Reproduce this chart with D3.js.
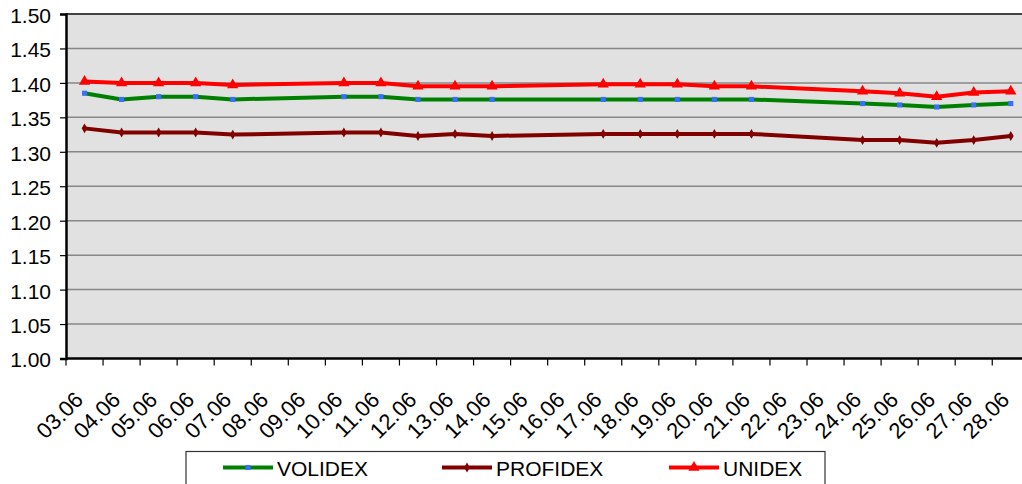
<!DOCTYPE html>
<html>
<head>
<meta charset="utf-8">
<script src="https://cdn.jsdelivr.net/npm/d3@7"></script>
<style>
  body { margin: 0; background: #ffffff; }
  text { font-family: "Liberation Sans", Arial, Helvetica, sans-serif; fill: #000; }
</style>
</head>
<body>
<script>
// ********************** DATA **************************************************************
var categories = ["03.06","04.06","05.06","06.06","07.06","08.06","09.06","10.06","11.06","12.06",
                  "13.06","14.06","15.06","16.06","17.06","18.06","19.06","20.06","21.06","22.06",
                  "23.06","24.06","25.06","26.06","27.06","28.06"];
// trading days only, weekends have no value
var dataDates = ["03.06","04.06","05.06","06.06","07.06","10.06","11.06","12.06","13.06","14.06",
                 "17.06","18.06","19.06","20.06","21.06","24.06","25.06","26.06","27.06","28.06"];
var volidex  = [1.385,1.376,1.380,1.380,1.376,1.380,1.380,1.376,1.376,1.376,
                1.376,1.376,1.376,1.376,1.376,1.370,1.368,1.365,1.368,1.370];
var profidex = [1.334,1.328,1.328,1.328,1.325,1.328,1.328,1.323,1.326,1.323,
                1.326,1.326,1.326,1.326,1.326,1.317,1.317,1.313,1.317,1.323];
var unidex   = [1.402,1.400,1.400,1.400,1.397,1.400,1.400,1.395,1.395,1.395,
                1.398,1.398,1.398,1.395,1.395,1.388,1.385,1.380,1.386,1.388];
var yTicks = [1.00,1.05,1.10,1.15,1.20,1.25,1.30,1.35,1.40,1.45,1.50];

// ********************** CHART SETUP **************************************************************
var width = 1022;
var height = 484;
var plotLeft = 66;
var plotTop = 14;
var plotBottom = 358.5;
var catWidth = 37.05;

var svg = d3.select("body")
    .append("svg")
    .attr("width", width)
    .attr("height", height);

var x = d3.scaleBand()
    .domain(categories)
    .range([plotLeft, plotLeft + categories.length * catWidth])
    .padding(0);

var y = d3.scaleLinear()
    .domain([1.00, 1.50])
    .range([plotBottom, plotTop]);

// plot area background
svg.append("rect")
    .attr("x", plotLeft)
    .attr("y", plotTop)
    .attr("width", categories.length * catWidth)
    .attr("height", plotBottom - plotTop)
    .attr("fill", "#e1e1e1");

// gridlines
svg.selectAll(".grid")
    .data(yTicks.slice(1))
    .enter().append("line")
    .attr("class", "grid")
    .attr("x1", plotLeft)
    .attr("x2", width)
    .attr("y1", d => y(d))
    .attr("y2", d => y(d))
    .attr("stroke", d => d === 1.50 ? "#444" : "#878787")
    .attr("stroke-width", d => d === 1.50 ? 2 : 1.5);

// Y axis
var yAxis = d3.axisLeft(y)
    .tickValues(yTicks)
    .tickFormat(d3.format(".2f"))
    .tickSize(6)
    .tickPadding(9);

var yG = svg.append("g")
    .attr("transform", "translate(" + plotLeft + ",0)")
    .call(yAxis);
yG.select(".domain").attr("stroke", "#000").attr("stroke-width", 2.5);
yG.selectAll(".tick line").attr("stroke", "#000").attr("stroke-width", 1.2);
yG.selectAll(".tick text")
    .style("font-size", "21px")
    .style("font-family", "'Liberation Sans', Arial, sans-serif")
    .attr("dy", "0.40em");

// X axis, ticks on category borders
var xG = svg.append("g");
xG.append("line")
    .attr("x1", plotLeft)
    .attr("x2", width)
    .attr("y1", plotBottom)
    .attr("y2", plotBottom)
    .attr("stroke", "#000")
    .attr("stroke-width", 2.5);

xG.selectAll(".xtick")
    .data(categories)
    .enter().append("line")
    .attr("class", "xtick")
    .attr("x1", d => x(d))
    .attr("x2", d => x(d))
    .attr("y1", plotBottom)
    .attr("y2", plotBottom + 7)
    .attr("stroke", "#000")
    .attr("stroke-width", 1.2);

xG.selectAll(".xlabel")
    .data(categories)
    .enter().append("text")
    .attr("class", "xlabel")
    .attr("transform", d => "translate(" + (x(d) + x.bandwidth() / 2) + ",401) rotate(-45)")
    .attr("text-anchor", "end")
    .style("font-size", "22px")
    .text(d => d);

// ********************** SERIES **************************************************************
var series = [
    { name: "VOLIDEX", values: volidex, color: "#008000", marker: "square", markerColor: "#3b6dff" },
    { name: "PROFIDEX", values: profidex, color: "#800000", marker: "dot", markerColor: "#800000" },
    { name: "UNIDEX", values: unidex, color: "#ff0000", marker: "triangle", markerColor: "#ff0000" }
];

var cx = function(d) { return x(d) + x.bandwidth() / 2; };

var line = d3.line()
    .x(d => cx(d.date))
    .y(d => y(d.value));

function markerPath(type) {
    if (type === "square") return d3.symbol().type(d3.symbolSquare).size(26)();
    if (type === "triangle") return d3.symbol().type(d3.symbolTriangle).size(55)();
    return d3.symbol().type(d3.symbolDiamond).size(28)();
}

series.forEach(function(s) {
    var pts = dataDates.map((d, i) => ({ date: d, value: s.values[i] }));

    svg.append("path")
        .datum(pts)
        .attr("d", line)
        .attr("fill", "none")
        .attr("stroke", s.color)
        .attr("stroke-width", 4)
        .attr("stroke-linejoin", "round");

    svg.selectAll(".m-" + s.name)
        .data(pts)
        .enter().append("path")
        .attr("class", "m-" + s.name)
        .attr("d", markerPath(s.marker))
        .attr("transform", d => "translate(" + cx(d.date) + "," + y(d.value) + ")")
        .attr("fill", s.markerColor);
});

// ********************** LEGEND **************************************************************
svg.append("rect")
    .attr("x", 186)
    .attr("y", 451.5)
    .attr("width", 639)
    .attr("height", 45)
    .attr("fill", "#fff")
    .attr("stroke", "#333")
    .attr("stroke-width", 1.2);

var legendX = [223, 442, 669];

series.forEach(function(s, i) {
    var lx = legendX[i];
    svg.append("line")
        .attr("x1", lx)
        .attr("x2", lx + 50)
        .attr("y1", 467.5)
        .attr("y2", 467.5)
        .attr("stroke", s.color)
        .attr("stroke-width", 4);

    svg.append("path")
        .attr("d", markerPath(s.marker))
        .attr("transform", "translate(" + (lx + 25) + ",467.5)")
        .attr("fill", s.markerColor);

    svg.append("text")
        .attr("x", lx + 54)
        .attr("y", 476)
        .style("font-size", "21px")
        .text(s.name);
});
</script>
</body>
</html>
